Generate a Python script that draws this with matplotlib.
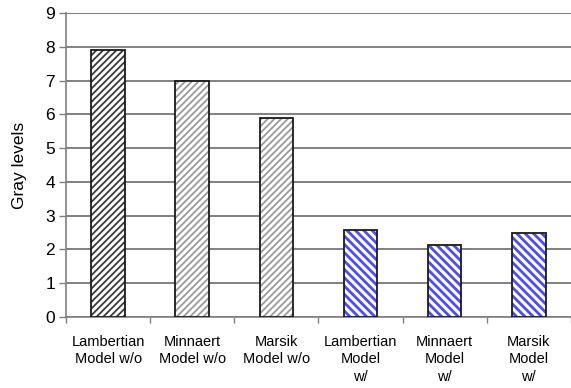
import matplotlib
matplotlib.use('Agg')
import matplotlib.pyplot as plt
import numpy as np

plt.rcParams['font.family'] = ['Liberation Sans', 'DejaVu Sans']

# Mean gray-level error per correction model
models = ['Lambertian\nModel w/o', 'Minnaert\nModel w/o', 'Marsik\nModel w/o',
          'Lambertian\nModel\nw/', 'Minnaert\nModel\nw/', 'Marsik\nModel\nw/']
gray_levels = [7.9, 7.0, 5.9, 2.57, 2.12, 2.48]

# hatch style per bar: (pattern, stripe colour, stripe width)
hatch_styles = [('/////', '#3a3a3a', 1.3),
                ('/////', '#9a9a9a', 1.3),
                ('/////', '#9a9a9a', 1.3),
                ('\\\\\\\\', '#4b4bff', 2.0),
                ('\\\\\\\\', '#4b4bff', 2.0),
                ('\\\\\\\\', '#4b4bff', 2.0)]

fig = plt.figure(figsize=(5.71, 3.88), dpi=100)
ax = fig.add_axes([0.1156, 0.183, 0.884, 0.7835])

x = np.arange(len(models))
for xi, val, (pat, col, lw) in zip(x, gray_levels, hatch_styles):
    plt.rcParams['hatch.linewidth'] = lw
    ax.bar(xi, val, width=0.4, color='white', edgecolor=col, hatch=pat,
           linewidth=0, zorder=3)
    ax.bar(xi, val, width=0.4, color='none', edgecolor='#1a1a1a',
           linewidth=1.3, zorder=4)

ax.set_xlim(-0.5, len(models) - 0.5)
ax.set_ylim(0, 9)
ax.set_yticks(range(0, 10))
ax.tick_params(axis='y', labelsize=12.5, length=5, width=1, color='#808080',
               pad=3)
ax.yaxis.grid(True, color='#808080', lw=1.4, zorder=0)

# category labels centred, tick marks between categories
ax.set_xticks(x)
ax.set_xticklabels(models, fontsize=10.5, linespacing=1.3)
ax.tick_params(axis='x', length=0, pad=13)
ax.set_xticks(np.arange(-0.5, len(models), 1.0), minor=True)
ax.tick_params(axis='x', which='minor', length=4, width=1, color='#808080',
               direction='out')

for side in ('top', 'right'):
    ax.spines[side].set_visible(False)
for side in ('left', 'bottom'):
    ax.spines[side].set_color('#808080')
    ax.spines[side].set_linewidth(1.2)

ax.set_ylabel('Gray levels', fontsize=12.5, labelpad=13)

fig.savefig('out.png', dpi=100)
